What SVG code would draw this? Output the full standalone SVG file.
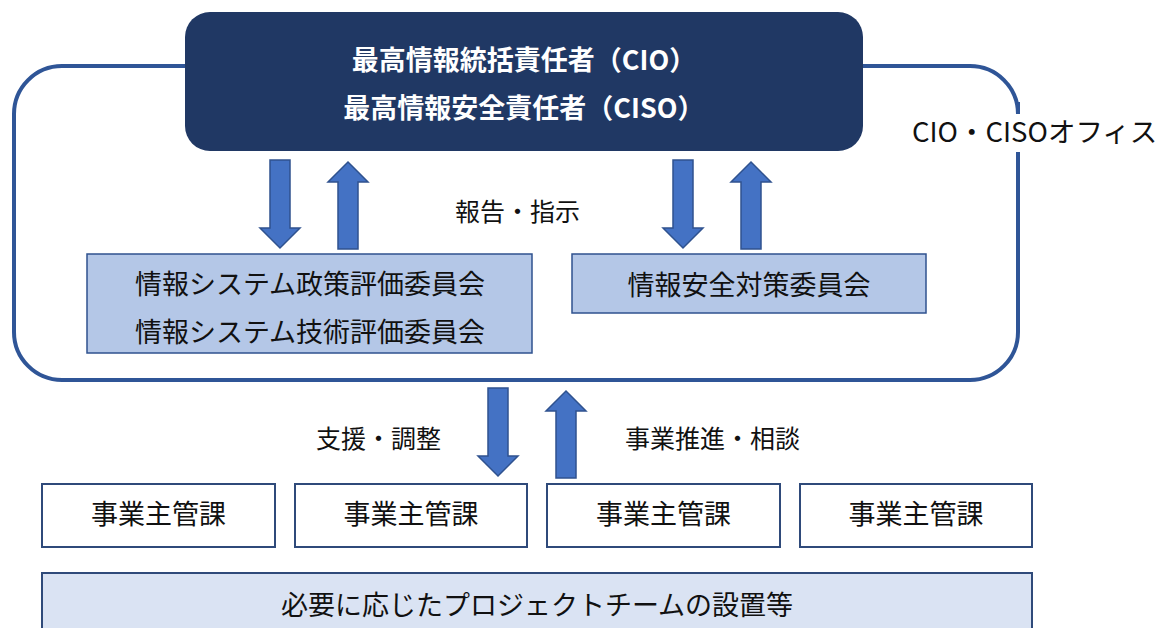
<svg xmlns="http://www.w3.org/2000/svg" width="1171" height="628" viewBox="0 0 1171 628">
<style>
  text { font-family: "Noto Sans CJK JP", "Noto Sans", sans-serif; dominant-baseline: central; }
  .frame { fill: none; stroke: #2F5597; stroke-width: 4; }
  .top { fill: #203864; }
  .topt { fill: #FFFFFF; font-size: 27px; font-weight: bold; text-anchor: middle; }
  .arrow { fill: #4472C4; stroke: #2F528F; stroke-width: 1.5; stroke-linejoin: miter; }
  .comm { fill: #B4C7E7; stroke: #2F528F; stroke-width: 1.5; }
  .dept { fill: #FFFFFF; stroke: #2F4A7A; stroke-width: 2; }
  .proj { fill: #DAE3F3; stroke: #2F4A7A; stroke-width: 2; }
  .nt { fill: #111111; font-size: 27px; text-anchor: middle; }
  .lbl { fill: #111111; font-size: 25px; }
</style>
<defs>
  <path id="down" d="M -10 0 L 10 0 L 10 68 L 20 68 L 0 88 L -20 68 L -10 68 Z"/>
  <path id="up" d="M 0 0 L 20 20 L 10 20 L 10 87 L -10 87 L -10 20 L -20 20 Z"/>
</defs>

<g id="office">
  <path class="frame" d="M 1018 152 L 1018 332 A 48 48 0 0 1 970 380 L 62 380 A 48 48 0 0 1 14 332 L 14 114 A 48 48 0 0 1 62 66 L 970 66 A 48 48 0 0 1 1018 114 L 1018 102"/>
  <text class="lbl" x="912" y="130" style="font-size:27.5px">CIO・CISOオフィス</text>
</g>

<g id="cio">
  <rect class="top" x="185" y="12" width="678" height="139" rx="25" ry="25"/>
  <text class="topt" x="524" y="58">最高情報統括責任者（CIO）</text>
  <text class="topt" x="524" y="106">最高情報安全責任者（CISO）</text>
</g>

<g id="connectors">
  <use href="#down" class="arrow" transform="translate(280,160)"/>
  <use href="#up" class="arrow" transform="translate(348,162)"/>
  <use href="#down" class="arrow" transform="translate(683,160)"/>
  <use href="#up" class="arrow" transform="translate(751,162)"/>
  <use href="#down" class="arrow" transform="translate(498,388)"/>
  <use href="#up" class="arrow" transform="translate(566,391)"/>
  <text class="lbl" x="455" y="210">報告・指示</text>
  <text class="lbl" x="316" y="437">支援・調整</text>
  <text class="lbl" x="625" y="437">事業推進・相談</text>
</g>

<g id="eval-committee">
  <rect class="comm" x="87" y="254" width="445" height="99"/>
  <text class="nt" x="310" y="282">情報システム政策評価委員会</text>
  <text class="nt" x="310" y="330">情報システム技術評価委員会</text>
</g>

<g id="security-committee">
  <rect class="comm" x="572" y="254" width="354" height="59"/>
  <text class="nt" x="749" y="283">情報安全対策委員会</text>
</g>

<g id="dept1">
  <rect class="dept" x="42" y="484" width="233" height="63"/>
  <text class="nt" x="158.5" y="512">事業主管課</text>
</g>
<g id="dept2">
  <rect class="dept" x="295" y="484" width="232" height="63"/>
  <text class="nt" x="411" y="512">事業主管課</text>
</g>
<g id="dept3">
  <rect class="dept" x="547" y="484" width="233" height="63"/>
  <text class="nt" x="663.5" y="512">事業主管課</text>
</g>
<g id="dept4">
  <rect class="dept" x="800" y="484" width="232" height="63"/>
  <text class="nt" x="916" y="512">事業主管課</text>
</g>

<g id="project">
  <rect class="proj" x="42" y="573" width="990" height="70"/>
  <text class="nt" x="537" y="603">必要に応じたプロジェクトチームの設置等</text>
</g>
</svg>
